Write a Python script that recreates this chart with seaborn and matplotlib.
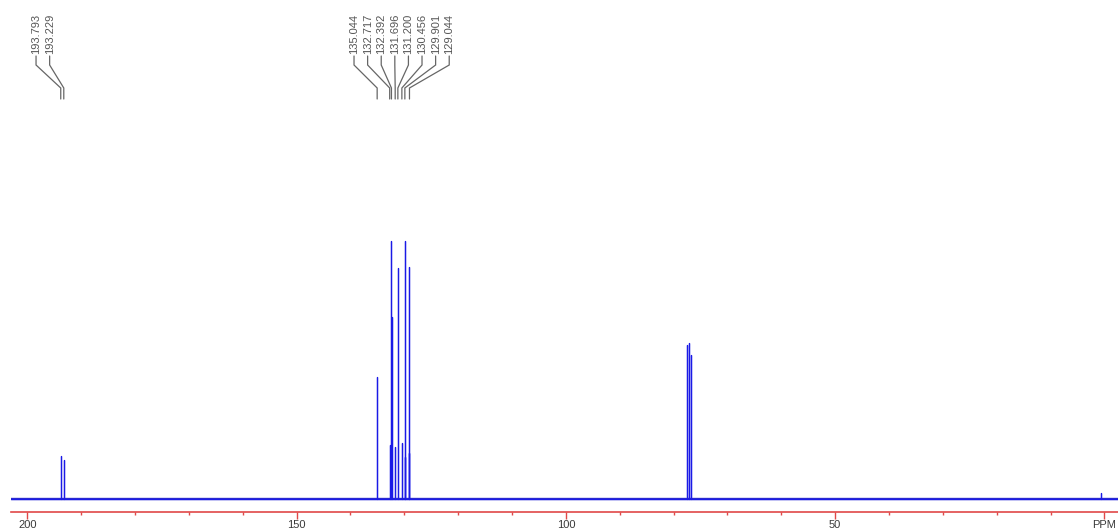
import numpy as np
import pandas as pd
import matplotlib
matplotlib.use("Agg")
import matplotlib.pyplot as plt
import seaborn as sns

# peak positions (ppm) and heights (arbitrary units)
peak_ppm = [193.793, 193.229, 135.044, 132.717, 132.392, 132.36, 131.696, 131.200,
            130.456, 129.901, 129.79, 129.18, 129.044, 77.46, 77.14, 76.78, 0.7]
peak_height = [43, 39, 122, 54, 258, 182, 52, 231, 56, 258, 42, 46, 232, 154, 156, 144, 6]

# labelled peaks, two groups
group1_labels = [193.793, 193.229]
group2_labels = [135.044, 132.717, 132.392, 131.696, 131.200, 130.456, 129.901, 129.044]

tick_pos = [200, 150, 100, 50, 0]
tick_text = ["200", "150", "100", "50", "PPM"]

xmin, xmax = 203.03, -2.51

sns.set_style("white")
plt.rcParams['font.family'] = ['Liberation Sans', 'DejaVu Sans']

# build spectrum as stick lines on a flat baseline
xs = [xmin]
ys = [0]
order = np.argsort(peak_ppm)[::-1]
for i in order:
    p = peak_ppm[i]
    xs += [p, p, p]
    ys += [0, peak_height[i], 0]
xs.append(xmax)
ys.append(0)
spec = pd.DataFrame({"ppm": xs, "intensity": ys})

fig = plt.figure(figsize=(11.18, 5.31), dpi=100)
ax = fig.add_axes([11 / 1118, 19 / 531, 1 - 11 / 1118, 512 / 531])

blue = "#1a1ae6"
sns.lineplot(data=spec, x="ppm", y="intensity", sort=False, estimator=None,
             color=blue, lw=0.9, ax=ax)
ax.axhline(0, color="#1515c8", lw=1.7, alpha=0.9, zorder=1)

ax.set_xlim(xmin, xmax)
ax.set_ylim(-13, 499)

# labels with leader lines
px = 5.386  # px per ppm
step = 13.6 / px
label_col = "#555555"
for start, labs in [(198.38, group1_labels), (139.34, group2_labels)]:
    for i, lab in enumerate(labs):
        lx = start - i * step
        ax.plot([lx, lx, lab, lab], [443, 434, 411, 400], color="#666666", lw=0.9,
                solid_joinstyle="miter")
        ax.text(lx, 445, f"{lab:.3f}", rotation=90, ha="center", va="bottom",
                fontsize=8, color=label_col)

red = "#e04848"
for s in ["top", "left", "right"]:
    ax.spines[s].set_visible(False)
ax.spines["bottom"].set_color(red)
ax.spines["bottom"].set_linewidth(1.2)
ax.set_xticks(tick_pos)
ax.set_xticklabels(tick_text)
ax.set_xticks(np.arange(190, -1, -10), minor=True)
ax.tick_params(axis="x", which="major", direction="out", length=5, width=1,
               color=red, labelsize=8, labelcolor="#3a3a3a", pad=1, bottom=True)
ax.tick_params(axis="x", which="minor", direction="out", length=2.3, width=1,
               color=red, bottom=True)
ax.set_yticks([])
ax.set_xlabel("")
ax.set_ylabel("")

fig.savefig("out.png", dpi=100)
